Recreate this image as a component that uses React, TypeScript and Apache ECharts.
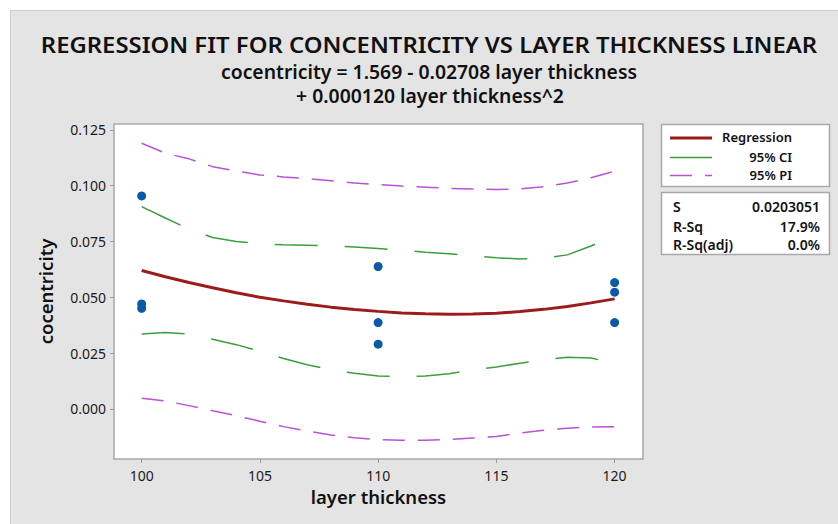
import React, { useEffect, useRef } from "react";
import * as echarts from "echarts";

const xValues = [100, 101, 102, 103, 104, 105, 106, 107, 108, 109, 110, 111, 112, 113, 114, 115, 116, 117, 118, 119, 120];
const regression = [0.062, 0.0592, 0.0566, 0.0543, 0.052, 0.05, 0.0484, 0.0469, 0.0456, 0.0445, 0.0437, 0.043, 0.0426, 0.0424, 0.0425, 0.0429, 0.0436, 0.0446, 0.0459, 0.0475, 0.0493];
const ciUpper = [0.0906, 0.0855, 0.0805, 0.0768, 0.075, 0.074, 0.0735, 0.0733, 0.073, 0.0725, 0.0718, 0.071, 0.0702, 0.0695, 0.0685, 0.0677, 0.0672, 0.0675, 0.069, 0.073, 0.0775];
const ciLower = [0.0336, 0.0342, 0.0336, 0.0312, 0.0288, 0.0258, 0.0226, 0.0198, 0.0175, 0.016, 0.0148, 0.0145, 0.0148, 0.0158, 0.0175, 0.0188, 0.0205, 0.022, 0.0232, 0.0228, 0.0205];
const piUpper = [0.119, 0.1145, 0.112, 0.1085, 0.1065, 0.1048, 0.1039, 0.1031, 0.1022, 0.1012, 0.1005, 0.0998, 0.0993, 0.0988, 0.0985, 0.0983, 0.0985, 0.0995, 0.1012, 0.1035, 0.1065];
const piLower = [0.0048, 0.0036, 0.0015, -0.0008, -0.003, -0.0055, -0.0079, -0.0099, -0.0117, -0.0129, -0.0137, -0.014, -0.014, -0.0137, -0.013, -0.0123, -0.0108, -0.0095, -0.0086, -0.0081, -0.0079];
const obsX = [100, 100, 100, 110, 110, 110, 120, 120, 120];
const obsY = [0.0954, 0.047, 0.0451, 0.0638, 0.0387, 0.029, 0.0566, 0.0523, 0.0387];
const xTicks = [100, 105, 110, 115, 120];
const yTicks = [0, 0.025, 0.05, 0.075, 0.1, 0.125];
const legendNames = ["Regression", "95% CI", "95% PI"];
const statNames = ["S", "R-Sq", "R-Sq(adj)"];
const statValues = ["0.0203051", "17.9%", "0.0%"];

const FONT = "'Noto Sans', 'Open Sans', sans-serif";
const RED = "#9c1c1c";
const GREEN = "#3b9e3b";
const PURPLE = "#b952d8";
const BLUE = "#0a5aa8";
const CI_DASH = [43, 27];
const PI_DASH = [22, 13];

function pairs(xs: number[], ys: number[]) {
  return xs.map((x, i) => [x, ys[i]]);
}

export default function App() {
  const ref = useRef<HTMLDivElement>(null);
  useEffect(() => {
    if (!ref.current) return;
    const chart = echarts.init(ref.current, null, { renderer: "svg" });
    const legendColors = [RED, GREEN, PURPLE];
    const legendDash: any[] = ["solid", CI_DASH, PI_DASH];
    const legendWidths = [3, 1.5, 1.5];
    const legendY = [138, 157.5, 175.5];
    const statY = [206, 226.5, 244];
    const graphic: any[] = [
      { type: "text", x: 429, y: 45, scaleX: 1.11, style: { text: "REGRESSION FIT FOR CONCENTRICITY VS LAYER THICKNESS LINEAR", x: 0, y: 0, align: "center", verticalAlign: "middle", font: `600 21.5px ${FONT}`, fill: "#111" } },
      { type: "text", x: 429, y: 72, scaleX: 1.03, style: { text: "cocentricity = 1.569 - 0.02708 layer thickness", x: 0, y: 0, align: "center", verticalAlign: "middle", font: `600 18.8px ${FONT}`, lineHeight: 20, fill: "#111" } },
      { type: "text", x: 430, y: 96, scaleX: 1.03, style: { text: "+ 0.000120 layer thickness^2", x: 0, y: 0, align: "center", verticalAlign: "middle", font: `600 18.8px ${FONT}`, lineHeight: 20, fill: "#111" } },
      { type: "rect", shape: { x: 661.5, y: 124.5, width: 168, height: 62 }, style: { fill: "#fff", stroke: "#a8a8a8", lineWidth: 1.5 } },
      { type: "rect", shape: { x: 661.5, y: 192.5, width: 168, height: 62 }, style: { fill: "#fff", stroke: "#a8a8a8", lineWidth: 1.5 } },
    ];
    legendNames.forEach((name, i) => {
      graphic.push({ type: "line", shape: { x1: 670, y1: legendY[i], x2: 712, y2: legendY[i] }, style: { stroke: legendColors[i], lineWidth: legendWidths[i], lineDash: legendDash[i] === "solid" ? null : legendDash[i] } });
      graphic.push({ type: "text", style: { text: name, x: 792, y: legendY[i] - 1, align: "right", verticalAlign: "middle", font: `600 13px ${FONT}`, fill: "#111" } });
    });
    statNames.forEach((name, i) => {
      graphic.push({ type: "text", style: { text: name, x: 673, y: statY[i], align: "left", verticalAlign: "middle", font: `600 14px ${FONT}`, fill: "#111" } });
      graphic.push({ type: "text", style: { text: statValues[i], x: 820, y: statY[i], align: "right", verticalAlign: "middle", font: `600 14px ${FONT}`, fill: "#111" } });
    });

    chart.setOption({
      animation: false,
      backgroundColor: "transparent",
      textStyle: { fontFamily: FONT },
      grid: { left: 114, top: 124, width: 529, height: 335, show: true, backgroundColor: "#fff", borderColor: "#a8a8a8", borderWidth: 1.5 },
      xAxis: {
        type: "value",
        min: 98.83,
        max: 121.2,
        name: "layer thickness",
        nameLocation: "middle",
        nameGap: 28,
        nameTextStyle: { fontSize: 18.5, fontWeight: 600, color: "#111", fontFamily: FONT },
        axisLine: { show: false, onZero: false },
        splitLine: { show: false },
        axisTick: { show: true, inside: false, length: 4, customValues: xTicks, lineStyle: { color: "#999" } },
        axisLabel: { customValues: xTicks, margin: 9, fontSize: 14, color: "#1a1a1a", fontFamily: FONT },
      },
      yAxis: {
        type: "value",
        min: -0.0224,
        max: 0.1276,
        name: "cocentricity",
        nameLocation: "middle",
        nameGap: 59,
        nameTextStyle: { fontSize: 18.5, fontWeight: 600, color: "#111", fontFamily: FONT },
        axisLine: { show: false, onZero: false },
        splitLine: { show: false },
        axisTick: { show: true, inside: false, length: 4, customValues: yTicks, lineStyle: { color: "#999" } },
        axisLabel: { customValues: yTicks, margin: 8, fontSize: 14, color: "#1a1a1a", fontFamily: FONT, formatter: (v: number) => v.toFixed(3) },
      },
      series: [
        { type: "line", name: "95% PI upper", data: pairs(xValues, piUpper), showSymbol: false, lineStyle: { color: PURPLE, width: 1.5, type: PI_DASH } },
        { type: "line", name: "95% PI lower", data: pairs(xValues, piLower), showSymbol: false, lineStyle: { color: PURPLE, width: 1.5, type: PI_DASH } },
        { type: "line", name: "95% CI upper", data: pairs(xValues, ciUpper), showSymbol: false, lineStyle: { color: GREEN, width: 1.5, type: CI_DASH } },
        { type: "line", name: "95% CI lower", data: pairs(xValues, ciLower), showSymbol: false, lineStyle: { color: GREEN, width: 1.5, type: CI_DASH } },
        { type: "line", name: "Regression", data: pairs(xValues, regression), showSymbol: false, lineStyle: { color: RED, width: 3 } },
        { type: "scatter", name: "Data", data: pairs(obsX, obsY), symbolSize: 9, itemStyle: { color: BLUE, opacity: 1 } },
      ],
      graphic,
    });
    return () => chart.dispose();
  }, []);

  return (
    <div style={{ position: "fixed", left: 0, top: 0, width: 838, height: 524, background: "#fff", overflow: "hidden" }}>
      <div style={{ position: "absolute", left: 10, top: 10, width: 828, height: 514, background: "#e4e4e4", borderLeft: "1px solid #d0d0d0", borderTop: "1px solid #d0d0d0", boxSizing: "border-box" }} />
      <div ref={ref} style={{ position: "absolute", left: 0, top: 0, width: 838, height: 524 }} />
    </div>
  );
}
